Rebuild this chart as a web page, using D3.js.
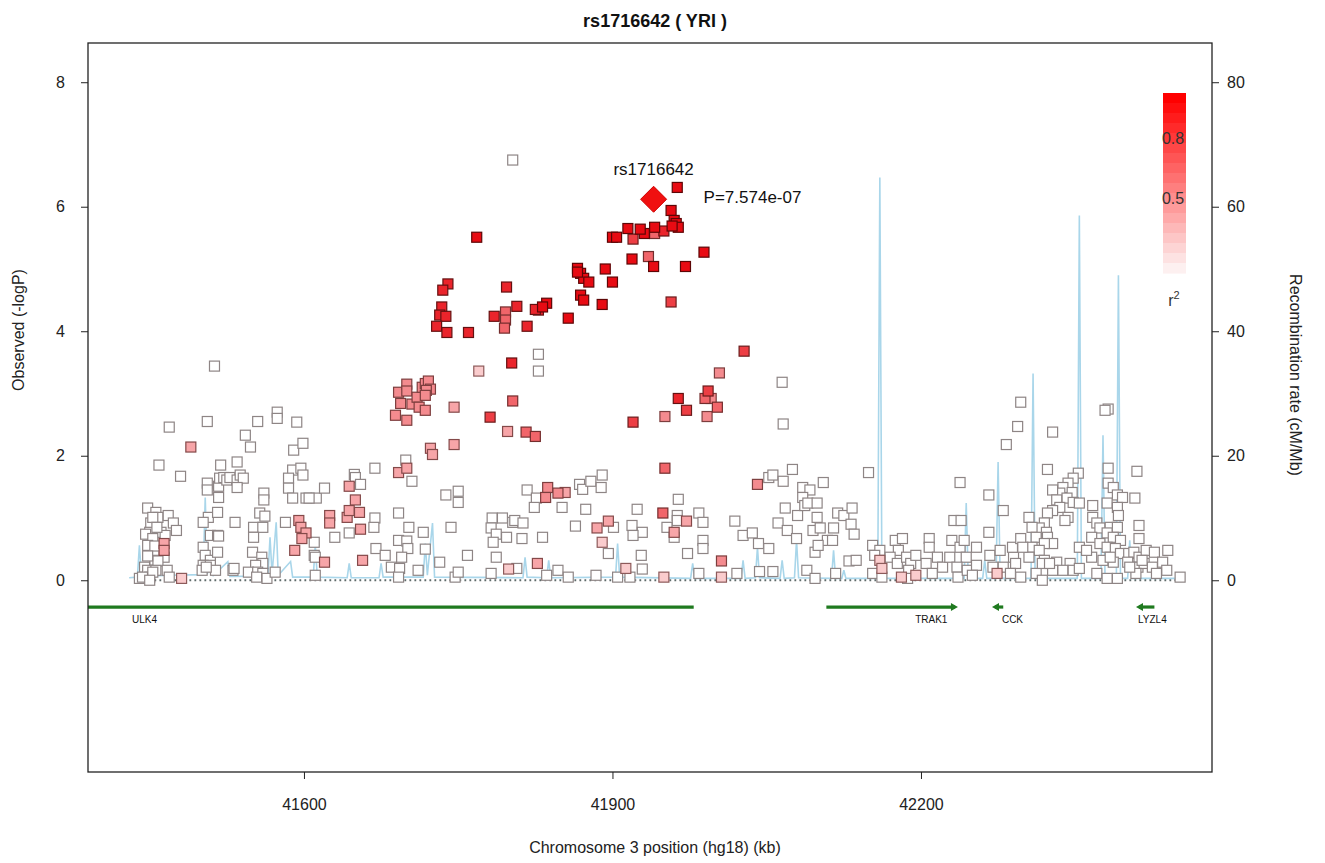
<!DOCTYPE html>
<html><head><meta charset="utf-8">
<script src="https://cdn.jsdelivr.net/npm/d3@7"></script>
<style>body{margin:0;background:#fff}svg{display:block;font-family:"Liberation Sans",Arial,sans-serif}</style>
</head><body><svg id="c" width="1325" height="863"></svg>
<script>
// ---- data (kb, -logP) grouped by r2 class ----
const snpGray = [[41448,1.16],[41456,1.09],[41458,1.01],[41451,0.92],[41468,1.04],[41473,0.92],[41476,0.80],[41450,0.77],[41446,0.74],[41461,0.77],[41453,0.67],[41465,0.72],[41464,0.37],[41448,0.56],[41455,0.32],[41458,0.31],[41445,0.21],[41448,0.16],[41456,0.16],[41450,0.05],[41440,0.03],[41467,0.16],[41469,0.05],[41453,1.01],[41455,0.55],[41453,0.13],[41443,0.05],[41450,0.0],[41457,0.85],[41448,0.39],
[41513,3.44],[41469,2.46],[41506,2.55],[41459,1.85],[41480,1.67],
[41506,1.56],[41506,1.45],[41517,1.51],[41518,1.64],[41522,1.65],[41525,1.61],[41528,1.65],[41535,1.61],[41538,1.69],[41541,1.64],[41535,1.49],[41517,1.33],[41519,1.85],[41535,1.90],[41507,1.01],[41502,0.93],[41516,1.09],[41509,0.72],[41516,0.72],[41502,0.53],[41504,0.40],[41509,0.32],[41516,0.45],[41502,0.24],[41509,0.24],[41501,0.16],[41514,0.16],[41531,0.16],[41533,0.93],[41517,0.71],[41505,0.21],[41532,0.19],
[41555,2.55],[41574,2.70],[41574,2.60],[41593,2.54],[41543,2.33],[41548,2.14],[41561,1.40],[41561,1.29],[41557,1.08],[41562,1.03],[41551,0.85],[41560,0.85],[41551,0.69],[41550,0.45],[41559,0.37],[41560,0.27],[41553,0.24],[41546,0.13],[41555,0.13],[41560,0.11],[41564,0.03],[41572,0.13],[41582,0.93],[41554,0.05],
[41589,1.77],[41585,1.64],[41597,1.80],[41599,1.69],[41590,2.09],[41599,2.20],[41585,1.48],[41589,1.32],[41602,1.32],[41612,1.32],[41610,0.61],[41610,0.40],[41611,0.08],[41620,1.48],[41605,1.32],[41611,0.37],[41630,0.69],
[41649,1.70],[41650,1.65],[41655,1.54],[41644,0.76],[41669,1.80],[41669,1.00],[41668,0.85],[41670,0.51],[41679,0.40],[41692,1.08],[41692,0.64],[41700,0.63],[41701,0.51],[41695,0.37],[41685,0.21],[41693,0.19],[41692,0.05],[41702,0.85],[41716,0.77],[41718,0.50],[41711,0.16],[41732,0.29],[41699,1.93],[41705,1.59],[41738,1.37],[41750,1.43],[41750,1.25],[41743,0.85],[41747,0.05],[41750,0.13],
[41803,6.75],[41828,3.63],[41828,3.36],[42065,3.18],[42066,2.51],
[41817,1.45],[41826,1.32],[41824,1.17],[41851,1.17],[41868,1.54],[41871,1.46],[41879,1.59],[41889,1.49],[41890,1.69],[41874,1.14],[41783,1.00],[41793,1.00],[41803,0.93],[41805,0.96],[41813,0.92],[41782,0.84],[41787,0.74],[41797,0.69],[41812,0.67],[41832,0.69],[41784,0.61],[41759,0.40],[41787,0.37],[41807,0.19],[41782,0.11],[41836,0.08],[41847,0.16],[41857,0.05],[41864,0.87],[41901,0.85],[41896,0.43],[41924,1.14],[41919,0.88],[41929,0.77],[41920,0.72],[41928,0.40],[41929,0.18],[41917,0.05],[41884,0.08],[41905,0.05],[41964,1.30],[41963,1.04],[41963,0.96],[41984,1.08],[41988,0.93],[41953,0.85],[41960,0.69],[41988,0.64],[41988,0.51],[41973,0.43],[41984,0.11],
[42019,0.95],[42027,0.72],[42036,0.76],[42042,0.59],[42052,0.51],[42021,0.11],[42043,0.14],[42056,0.14],[42052,1.65],[42056,1.69],[42066,1.59],[42075,1.78],[42068,1.16],[42061,0.92],[42070,0.80],[42079,0.67],[42080,1.04],[42085,1.49],[42092,1.45],[42085,1.33],[42087,1.20],[42090,1.24],[42099,1.24],[42105,1.57],[42099,1.01],[42095,0.80],[42102,0.84],[42109,0.64],[42114,0.64],[42115,0.84],[42119,1.08],[42097,0.45],[42100,0.56],[42089,0.16],[42097,0.03],
[42149,1.73],[42125,1.04],[42133,1.16],[42132,0.90],[42135,0.74],[42130,0.31],[42137,0.32],[42117,0.11],[42297,2.86],[42294,2.47],[42283,2.18],[42323,1.78],[42328,2.38],[42238,1.57],[42266,1.37],[42280,1.12],[42232,0.96],[42239,0.96],[42266,0.77],[42382,2.75],[42379,2.73],[42382,1.80],[42410,1.75],[42408,1.32],[42412,0.88],[42412,0.67],[42440,0.48],
[42353,1.72],[42348,1.64],[42343,1.56],[42338,1.49],[42347,1.41],[42335,1.40],[42328,1.45],[42342,1.32],[42332,1.29],[42348,1.25],[42354,1.24],[42335,1.17],[42328,1.12],[42323,1.08],[42343,1.01],[42340,0.96],[42305,1.01],[42320,0.92],[42315,0.84],[42308,0.85],[42322,0.77],[42312,0.69],[42323,0.69],[42328,0.59],[42320,0.59],[42308,0.53],[42315,0.48],[42305,0.37],[42320,0.32],[42332,0.29],[42345,0.27],[42328,0.16],[42338,0.16],[42348,0.16],[42312,0.11],[42318,0.0],[42354,0.53],[42354,0.19],[42318,0.27],[42325,0.27],
[42382,1.56],[42387,1.49],[42391,1.37],[42396,1.33],[42381,1.24],[42391,1.17],[42392,1.04],[42367,1.20],[42367,1.01],[42371,0.92],[42374,0.84],[42384,0.85],[42391,0.85],[42381,0.76],[42387,0.69],[42394,0.64],[42366,0.69],[42374,0.59],[42381,0.53],[42389,0.51],[42394,0.43],[42402,0.43],[42407,0.45],[42412,0.37],[42419,0.48],[42427,0.45],[42366,0.37],[42377,0.32],[42387,0.29],[42401,0.29],[42411,0.21],[42417,0.27],[42425,0.21],[42435,0.29],[42439,0.16],[42429,0.11],[42409,0.11],[42391,0.03],[42371,0.11],[42381,0.03],[42361,0.48],[42384,0.37],[42415,0.32],[42403,0.21],
[42153,0.56],[42160,0.48],[42155,0.40],[42153,0.11],[42162,0.05],[42175,0.64],[42182,0.67],[42178,0.48],[42170,0.37],[42177,0.27],[42186,0.37],[42190,0.27],[42195,0.40],[42188,0.16],[42187,0.03],[42208,0.67],[42208,0.53],[42216,0.37],[42205,0.27],[42211,0.11],[42221,0.21],[42228,0.37],[42230,0.64],[42238,0.53],[42242,0.64],[42244,0.37],[42235,0.21],[42236,0.05],[42245,0.16],[42254,0.53],[42254,0.24],[42250,0.08],[42267,0.40],[42270,0.21],[42280,0.21],[42277,0.48],[42290,0.37],[42289,0.53],[42297,0.67],[42299,0.53],[42292,0.27],[42287,0.11],[42297,0.05],[42452,0.05]];
const snpR2_20 = [[41481,0.03],[41770,3.36],[41890,0.61],[42160,0.32],[42162,0.19],[42181,0.05],[42195,0.08],[42274,0.11],[41950,0.05],[42006,0.05],[41913,0.19],[41799,0.18]];
const snpR2_35 = [[41464,0.59],[41464,0.48],[41490,2.14],[41595,0.96],[41597,0.85],[41602,0.76],[41598,0.67],[41591,0.48],[41620,0.29],[41625,1.04],[41625,0.92],[41644,1.51],[41642,1.01],[41644,1.12],[41650,1.29],[41654,1.09],[41655,0.82],[41657,0.32],[41692,1.73],[41700,1.80],[41723,2.12],[41725,2.02],[41746,2.78],[41746,2.18],[41798,2.39],[41827,0.27],[41854,1.41],[41885,0.84],[41896,0.95],[41972,0.95],[41960,0.77]];
const snpR2_45 = [[41692,3.02],[41700,3.15],[41700,3.04],[41694,2.84],[41689,2.65],[41700,2.57],[41705,2.83],[41710,2.94],[41712,2.78],[41718,2.73],[41715,3.10],[41718,3.16],[41721,3.20],[41723,3.07],[41719,3.05],[41718,2.97],[41837,1.49],[41835,1.33],[41847,1.40],[41996,2.92],[41992,2.63],[41951,2.63],[42004,3.33],[42041,1.54],[42006,0.31]];
const snpR2_60 = [[41803,2.88],[41816,2.38],[41825,2.31],[41990,2.92],[41951,1.80],[41949,1.08],[41941,5.57],[41935,5.20],[41796,4.31],[41796,4.18],[41795,4.05],[42002,2.78]];
const snpR2_75 = [[41781,2.62],[42028,3.68],[41993,3.04],[41920,2.54],[41957,4.47],[41920,5.48],[41972,2.73]];
const snpR2_85 = [[41802,3.49],[41964,2.92],[41950,5.61],[41828,4.34],[41825,4.35],[41807,4.40],[41797,4.71],[41785,4.24],[41817,4.08],[41740,4.76],[41735,4.66],[41734,4.39],[41732,4.26],[41738,4.24],[41729,4.08],[41739,3.98],[41760,3.98]];
const snpR2_95 = [[41963,6.31],[41957,5.94],[41960,5.78],[41962,5.73],[41964,5.67],[41958,5.69],[41941,5.67],[41931,5.57],[41927,5.64],[41915,5.65],[41900,5.51],[41904,5.51],[41989,5.27],[41971,5.04],[41919,5.16],[41940,5.04],[41768,5.51],[41866,5.01],[41869,4.93],[41872,4.85],[41877,4.79],[41866,4.95],[41893,5.00],[41900,4.79],[41869,4.58],[41872,4.50],[41890,4.43],[41857,4.21],[41836,4.45],[41832,4.39]];
const r2Classes = [0, 0.2, 0.35, 0.45, 0.6, 0.75, 0.85, 0.95];

const indexSnp = {name: "rs1716642", pos: 41940, logp: 6.12, pval: "P=7.574e-07"};

// recombination rate (kb, cM/Mb)
const recombPos  = [41430,41438,41440,41442,41470,41502,41504,41506,41510,41512,41526,41528,41565,41567,41569,41573,41575,41587,41589,41609,41611,41613,41642,41644,41646,41673,41675,41677,41716,41718,41720,41725,41727,41813,41815,41817,41836,41838,41840,41903,41905,41907,41976,41978,41980,42025,42027,42029,42039,42041,42043,42063,42065,42067,42077,42079,42081,42113,42115,42117,42123,42125,42127,42158,42160,42162,42242,42244,42246,42260,42262,42264,42273,42275,42277,42307,42309,42311,42352,42354,42356,42375,42377,42379,42390,42392,42394,42401,42403,42405,42452];
const recombRate = [0.4,0.5,5.6,0.6,0.8,0.9,13.3,1.0,4.0,0.8,3.0,0.6,0.7,6.9,1.0,9.3,0.8,3.0,0.5,0.5,5.6,0.5,0.4,2.7,0.4,0.4,2.7,0.5,0.5,5.9,0.8,9.2,0.5,0.4,3.7,0.5,0.4,3.2,0.4,0.5,5.9,0.5,0.3,2.7,0.3,0.3,3.2,0.3,0.4,5.3,0.4,0.3,3.2,0.3,0.4,6.4,0.4,0.3,4.8,0.3,0.3,1.6,0.3,0.3,64.7,0.3,0.3,12.4,0.3,0.3,3.2,0.3,0.3,19,0.3,0.3,33.2,0.3,0.3,58.6,0.3,0.3,23.3,0.3,0.3,49,0.3,0.3,6.4,0.3,0.3];

// genes
const geneNames  = ["ULK4","TRAK1","CCK","LYZL4"];
const geneStart  = [41260, 42108, 42272, 42412];
const geneEnd    = [41979, 42233, 42280, 42427];
const geneStrand = ["-","+","-","-"];
const geneLabelPos = [41445, 42210, 42289, 42425];

const xTicks = [41600, 41900, 42200];
const yTicks = [0,2,4,6,8];
const yRTicks = [0,20,40,60,80];
const legendSteps = [1.0,0.95,0.9,0.85,0.8,0.75,0.7,0.65,0.6,0.55,0.5,0.45,0.4,0.35,0.3,0.25,0.2,0.15];
const legendLabels = [0.8, 0.5];

// ---- drawing ----
const svg = d3.select("#c");
const L=88, R=1212, T=43, B=772;
const x = d3.scaleLinear().domain([41390, 42483]).range([L, R]);
const y = d3.scaleLinear().domain([-3.08, 8.63]).range([B, T]);
const yR = d3.scaleLinear().domain([-30.8, 86.3]).range([B, T]);
const fillC = r => r <= 0 ? "#ffffff" : d3.interpolateRgb("#ffffff", "#e80a12")(Math.min(1, r*1.05));
const strokeC = r => r <= 0 ? "#8e8585" : d3.interpolateRgb("#9a7070", "#5a0000")(r);

svg.append("defs").append("clipPath").attr("id","clip").append("rect")
  .attr("x",L).attr("y",T).attr("width",R-L).attr("height",B-T);
const plot = svg.append("g").attr("clip-path","url(#clip)");

// recombination line
const rec = recombPos.map((p,i)=>[p, recombRate[i]]);
plot.append("path").datum(rec)
  .attr("d", d3.line().x(d=>x(d[0])).y(d=>yR(d[1])))
  .attr("fill","none").attr("stroke","#a9d6ea").attr("stroke-width",1.6);

// dotted baseline
const allPos = snpGray.concat(snpR2_20).map(d=>d[0]);
plot.append("line").attr("x1",x(d3.min(allPos))).attr("x2",x(d3.max(allPos)))
  .attr("y1",y(0)).attr("y2",y(0)).attr("stroke","#5f6a6a").attr("stroke-width",1.8)
  .attr("stroke-dasharray","1.8,3.2");

// points
const groups = [snpGray, snpR2_20, snpR2_35, snpR2_45, snpR2_60, snpR2_75, snpR2_85, snpR2_95];
const s = 10;
groups.forEach((g,gi)=>{
  const r = r2Classes[gi];
  plot.append("g").selectAll("rect").data(g).join("rect")
    .attr("x",d=>x(d[0])-s/2).attr("y",d=>y(d[1])-s/2)
    .attr("width",s).attr("height",s)
    .attr("fill", fillC(r)).attr("stroke", strokeC(r)).attr("stroke-width",1.2);
});

// index SNP diamond
const ds = 13;
plot.append("path")
  .attr("d", `M${x(indexSnp.pos)},${y(indexSnp.logp)-ds} l${ds},${ds} l${-ds},${ds} l${-ds},${-ds} z`)
  .attr("fill","#f01010").attr("stroke","#d00000").attr("stroke-width",1);
svg.append("text").attr("x",x(indexSnp.pos)).attr("y",y(indexSnp.logp)-24)
  .attr("text-anchor","middle").attr("font-size",17).attr("fill","#111").text(indexSnp.name);
svg.append("text").attr("x",x(indexSnp.pos)+50).attr("y",y(indexSnp.logp)+4)
  .attr("font-size",17).attr("fill","#111").text(indexSnp.pval);

// genes
const gy = y(-0.43);
const gg = plot.append("g");
geneNames.forEach((n,i)=>{
  const x0=x(geneStart[i]), x1=x(geneEnd[i]);
  gg.append("line").attr("x1",x0).attr("x2",x1).attr("y1",gy).attr("y2",gy)
    .attr("stroke","#1f7a1f").attr("stroke-width",3.2);
  if (n !== "ULK4") {
    const tip = geneStrand[i]==="+" ? x1+3 : x0-3;
    const dir = geneStrand[i]==="+" ? -1 : 1;
    gg.append("path").attr("d",`M${tip},${gy} l${dir*7},${-4} l0,8 z`).attr("fill","#1f7a1f");
  }
  gg.append("text").attr("x",x(geneLabelPos[i])).attr("y",gy+16).attr("text-anchor","middle")
    .attr("font-size",10).attr("fill","#111").text(n);
});

// frame
svg.append("rect").attr("x",L).attr("y",T).attr("width",R-L).attr("height",B-T)
  .attr("fill","none").attr("stroke","#222").attr("stroke-width",1.3);

// axes
const fs = 16;
const ax = svg.append("g").attr("transform",`translate(0,${B})`)
  .call(d3.axisBottom(x).tickValues(xTicks).tickSize(7).tickPadding(20).tickFormat(d3.format("d")));
const ayl = svg.append("g").attr("transform",`translate(${L},0)`)
  .call(d3.axisLeft(y).tickValues(yTicks).tickSize(7).tickPadding(16));
const ayr = svg.append("g").attr("transform",`translate(${R},0)`)
  .call(d3.axisRight(yR).tickValues(yRTicks).tickSize(7).tickPadding(8));
[ax,ayl,ayr].forEach(a=>{
  a.select(".domain").remove();
  a.selectAll("line").attr("stroke","#222");
  a.selectAll("text").attr("font-size",fs).attr("fill","#222").attr("font-family","Liberation Sans, Arial");
});

// titles
svg.append("text").attr("x",655).attr("y",27).attr("text-anchor","middle")
  .attr("font-size",18).attr("font-weight","bold").attr("fill","#111").text("rs1716642 ( YRI )");
svg.append("text").attr("x",655).attr("y",853).attr("text-anchor","middle")
  .attr("font-size",16).attr("fill","#222").text("Chromosome 3 position (hg18) (kb)");
svg.append("text").attr("transform","translate(24,330) rotate(-90)").attr("text-anchor","middle")
  .attr("font-size",16).attr("fill","#222").text("Observed (-logP)");
svg.append("text").attr("transform","translate(1290,375) rotate(90)").attr("text-anchor","middle")
  .attr("font-size",16).attr("fill","#222").text("Recombination rate (cM/Mb)");

// legend
const ly = d3.scaleLinear().domain([1,0]).range([98,298]);
const lg = svg.append("g");
lg.selectAll("rect").data(legendSteps).join("rect")
  .attr("x",1163).attr("width",23)
  .attr("y",d=>ly(d+0.025)).attr("height",d=>ly(d-0.025)-ly(d+0.025)+0.6)
  .attr("fill",d=>d3.interpolateRgb("#fdf0f0","#ff0000")((d-0.15)/0.85));
lg.selectAll("text.v").data(legendLabels).join("text").attr("class","v")
  .attr("x",1173).attr("y",d=>ly(d)+6).attr("text-anchor","middle")
  .attr("font-size",16).attr("fill","#333").text(d=>d);
lg.append("text").attr("x",1174).attr("y",306).attr("text-anchor","middle")
  .attr("font-size",16).attr("fill","#333").text("r").append("tspan")
  .attr("dy",-7).attr("font-size",11).text("2");
</script></body></html>
